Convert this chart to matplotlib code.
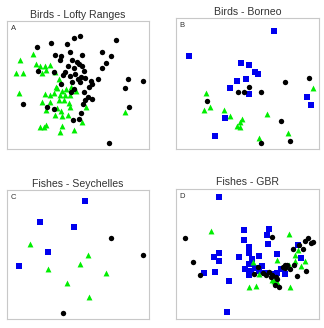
import matplotlib
matplotlib.use("Agg")
import matplotlib.pyplot as plt

plt.rcParams["font.family"] = ["Liberation Sans", "DejaVu Sans"]

# Ordination scores (arbitrary units, y grows downward)
birds_lofty_black_x = [111, 152, 201, 220, 240, 347, 164, 182, 208, 247, 307, 333, 318, 180, 215,
                       229, 238, 245, 202, 222, 252, 305, 112, 162, 194, 188, 210, 224, 232, 254,
                       273, 295, 384, 429, 214, 240, 183, 276, 222, 266, 252, 376, 211, 264, 256,
                       276, 248, 68, 139, 162, 388, 244, 236, 218, 326, 242]
birds_lofty_black_y = [140, 128, 132, 114, 108, 120, 164, 166, 155, 165, 155, 167, 188, 178, 178,
                       185, 190, 196, 196, 203, 211, 203, 211, 215, 216, 224, 226, 222, 235, 232,
                       241, 235, 237, 241, 244, 246, 250, 250, 266, 262, 276, 265, 275, 290, 300,
                       296, 312, 311, 322, 326, 321, 338, 356, 360, 430, 230]
birds_lofty_green_x = [99, 58, 108, 120, 133, 150, 138, 48, 68, 126, 165, 176, 166, 55, 134,
                       148, 169, 186, 198, 212, 180, 194, 208, 124, 148, 176, 190, 206, 170, 208,
                       258, 138, 182, 204, 163, 186, 246, 136, 120, 130, 184, 178, 220, 375, 228,
                       160]
birds_lofty_green_y = [162, 178, 192, 196, 196, 193, 208, 218, 218, 218, 215, 235, 262, 280, 283,
                       285, 265, 272, 268, 262, 284, 286, 284, 306, 306, 300, 300, 308, 324, 322,
                       320, 330, 332, 346, 344, 348, 367, 376, 382, 382, 378, 396, 390, 337, 272,
                       280]

birds_borneo_blue_x = [336, 81, 236, 262, 278, 288, 226, 252, 203, 262, 436, 448, 190, 160]
birds_borneo_blue_y = [93, 168, 190, 194, 216, 223, 242, 238, 263, 283, 292, 316, 354, 408]
birds_borneo_black_x = [370, 440, 262, 228, 245, 296, 134, 358, 296, 385]
birds_borneo_black_y = [247, 234, 262, 277, 277, 277, 302, 362, 430, 422]
birds_borneo_green_x = [131, 453, 125, 144, 187, 204, 240, 235, 224, 234, 314, 379, 290]
birds_borneo_green_y = [279, 263, 329, 321, 331, 347, 356, 366, 377, 381, 342, 400, 415]

fishes_sey_blue_x = [255, 121, 221, 145, 56]
fishes_sey_blue_y = [100, 162, 176, 251, 294]
fishes_sey_black_x = [334, 429, 189]
fishes_sey_black_y = [209, 261, 434]
fishes_sey_green_x = [91, 263, 239, 144, 318, 200, 268]
fishes_sey_green_y = [228, 262, 289, 302, 314, 346, 388]

fishes_gbr_blue_x = [171, 246, 322, 316, 247, 262, 318, 408, 172, 156, 172, 232, 262, 292, 344,
                     271, 416, 260, 248, 268, 292, 125, 160, 200, 260, 310, 336, 344, 358, 370,
                     194, 300, 280]
fishes_gbr_blue_y = [88, 187, 182, 202, 216, 238, 228, 232, 254, 267, 278, 266, 256, 263, 258,
                     273, 270, 288, 302, 308, 308, 315, 312, 340, 322, 316, 318, 316, 302, 318,
                     433, 295, 300]
fishes_gbr_black_x = [68, 331, 393, 412, 430, 438, 448, 454, 422, 93, 114, 276, 288, 302, 312,
                      320, 330, 326, 342, 346, 338, 352, 362, 368, 376, 384, 370, 404, 432, 396]
fishes_gbr_black_y = [209, 208, 242, 232, 220, 210, 224, 222, 244, 281, 320, 318, 296, 314, 320,
                      312, 320, 326, 326, 332, 350, 358, 296, 292, 290, 302, 300, 324, 310, 290]
fishes_gbr_green_x = [146, 382, 408, 400, 345, 398, 428, 418, 380, 330, 336, 346, 282, 262, 384,
                      292, 272]
fishes_gbr_green_y = [188, 197, 246, 260, 275, 280, 280, 294, 290, 335, 340, 342, 355, 358, 358,
                      318, 282]

# marker style per group: (marker, size, colour)
BLUE = ("s", 13, "#0000ee")
GREEN = ("^", 18, "#00ee00")
BLACK = ("o", 15, "black")

panels = [
    {
        "title": "Birds - Lofty Ranges", "letter": "A",
        "rect": [7, 21, 149, 149], "lims": [20, 447, 62, 447],
        "series": [
            (birds_lofty_green_x, birds_lofty_green_y, GREEN),
            (birds_lofty_black_x, birds_lofty_black_y, BLACK),
        ],
    },
    {
        "title": "Birds - Borneo", "letter": "B",
        "rect": [176.3, 18.3, 319.3, 149], "lims": [43, 472, 55, 447],
        "series": [
            (birds_borneo_blue_x, birds_borneo_blue_y, BLUE),
            (birds_borneo_green_x, birds_borneo_green_y, GREEN),
            (birds_borneo_black_x, birds_borneo_black_y, BLACK),
        ],
    },
    {
        "title": "Fishes - Seychelles", "letter": "C",
        "rect": [6.7, 190.3, 149.3, 319], "lims": [20, 448, 67, 453],
        "series": [
            (fishes_sey_blue_x, fishes_sey_blue_y, BLUE),
            (fishes_sey_green_x, fishes_sey_green_y, GREEN),
            (fishes_sey_black_x, fishes_sey_black_y, BLACK),
        ],
    },
    {
        "title": "Fishes - GBR", "letter": "D",
        "rect": [176.3, 188.7, 319.3, 319], "lims": [43, 472, 62, 453],
        "series": [
            (fishes_gbr_blue_x, fishes_gbr_blue_y, BLUE),
            (fishes_gbr_green_x, fishes_gbr_green_y, GREEN),
            (fishes_gbr_black_x, fishes_gbr_black_y, BLACK),
        ],
    },
]

W, H = 324, 328
fig = plt.figure(figsize=(W / 100, H / 100), dpi=100)

for p in panels:
    x0, y0, x1, y1 = p["rect"]
    ax = fig.add_axes([x0 / W, (H - y1) / H, (x1 - x0) / W, (y1 - y0) / H])
    for xs, ys, (marker, size, color) in p["series"]:
        ax.scatter(xs, ys, marker=marker, s=size, color=color, linewidths=0, zorder=3)
    lx0, lx1, ly0, ly1 = p["lims"]
    ax.set_xlim(lx0, lx1)
    ax.set_ylim(ly1, ly0)  # inverted, values were read top-down
    ax.set_xticks([])
    ax.set_yticks([])
    for sp in ax.spines.values():
        sp.set_color("#c8c8c8")
        sp.set_linewidth(0.8)
    ax.set_title(p["title"], fontsize=7.6, color="#333333", pad=2.5)
    ax.text(0.025, 0.97, p["letter"], transform=ax.transAxes, fontsize=5.5,
            color="#333333", va="top", ha="left")

fig.savefig("out.png", dpi=100)
